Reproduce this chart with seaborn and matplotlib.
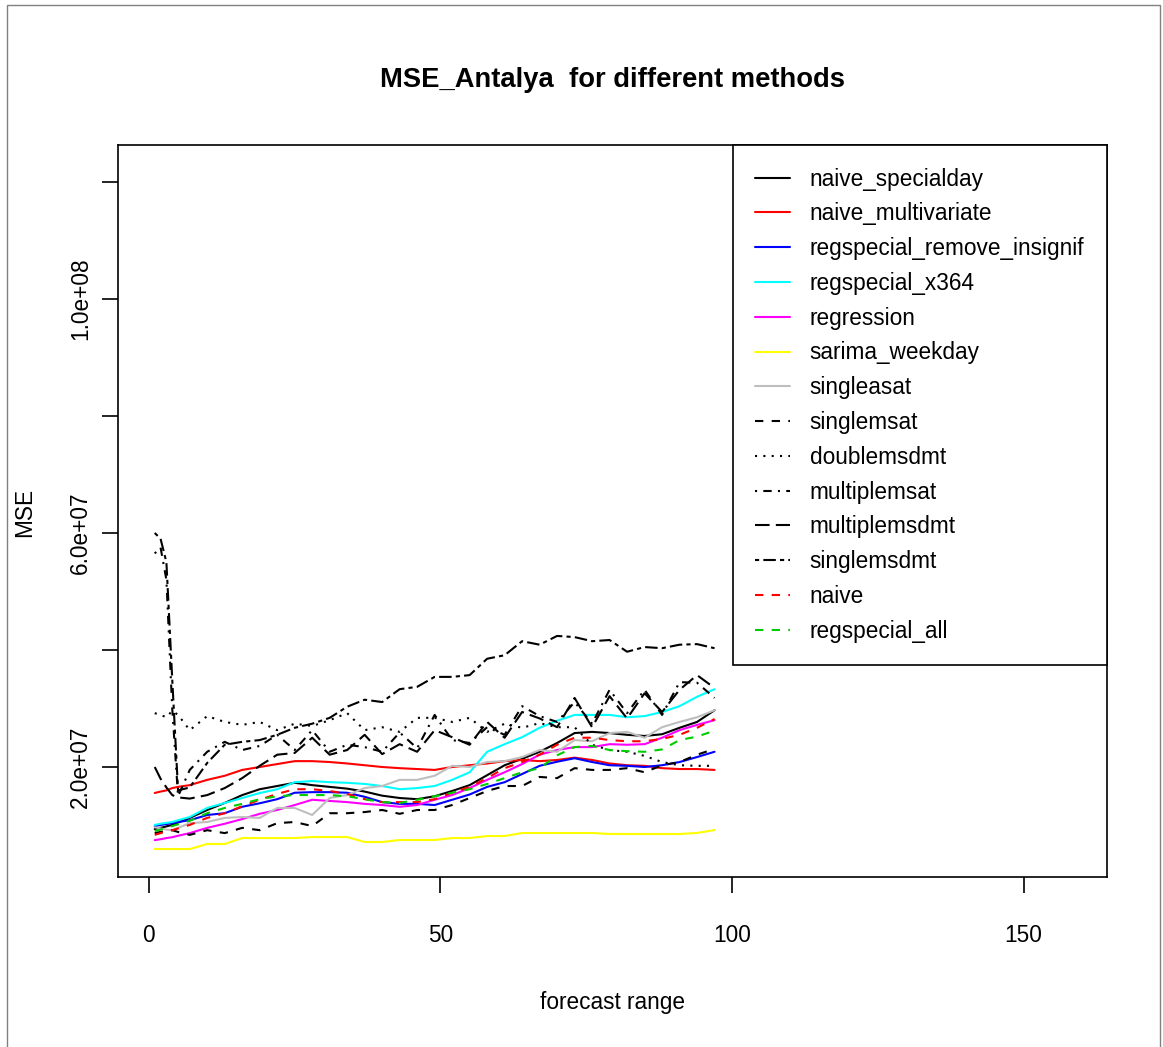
import pandas as pd
import seaborn as sns
import matplotlib.pyplot as plt
from matplotlib import font_manager
from matplotlib.patches import Rectangle

# forecast horizons at which the curves were read
horizon = [1, 2, 3, 4, 5, 7, 10, 13, 16, 19, 22, 25, 28, 31, 34, 37, 40, 43, 46, 49,
           52, 55, 58, 61, 64, 67, 70, 73, 76, 79, 82, 85, 88, 91, 94, 97]

# MSE values, in millions
naive_specialday = [9.4, 9.6, 9.85, 10.1, 10.5, 11.3, 12.65, 13.85, 15.2, 16.2, 16.75, 17.3, 16.9, 16.6, 16.3, 15.8, 15.1, 14.7,
                    14.5, 15.0, 15.9, 16.9, 18.6, 20.3, 21.4, 22.6, 24.1, 25.8, 26.0, 25.8, 25.5, 25.3, 25.6, 26.7, 27.7, 29.7]
naive_multivariate = [15.56, 15.8, 16.0, 16.4, 16.6, 16.9, 17.8, 18.5, 19.5, 20.0, 20.5, 21.0, 21.0, 20.85, 20.6, 20.3, 20.0, 19.8,
                      19.65, 19.5, 20.0, 20.3, 20.6, 21.0, 21.2, 21.0, 21.2, 21.6, 21.2, 20.6, 20.3, 20.2, 19.8, 19.65, 19.65, 19.5]
regspecial_remove_insignif = [9.9, 10.1, 10.25, 10.4, 10.6, 10.9, 11.8, 12.1, 13.2, 13.8, 14.5, 15.6, 15.7, 15.7, 15.6, 14.9, 14.0, 13.7,
                              13.7, 13.5, 14.4, 15.3, 16.6, 17.4, 18.8, 20.2, 20.9, 21.5, 20.85, 20.3, 20.2, 20.0, 20.3, 20.85, 21.7, 22.6]
regspecial_x364 = [10.1, 10.3, 10.45, 10.6, 10.9, 11.45, 13.0, 13.85, 14.7, 15.55, 16.2, 17.4, 17.6, 17.4, 17.3, 17.1, 16.75, 16.2,
                   16.4, 16.75, 17.8, 19.1, 22.6, 23.9, 25.1, 26.7, 27.9, 28.9, 28.9, 28.9, 28.5, 28.7, 29.4, 30.4, 32.0, 33.3]
regression = [7.5, 7.65, 7.85, 8.0, 8.25, 8.7, 9.6, 10.3, 11.1, 12.0, 12.65, 13.5, 14.4, 14.2, 14.0, 13.7, 13.5, 13.2,
              13.5, 14.4, 15.2, 16.4, 17.8, 19.1, 20.5, 22.1, 22.9, 23.4, 23.4, 23.9, 23.8, 23.9, 25.0, 26.3, 27.2, 28.0]
sarima_weekday = [5.98, 5.98, 5.98, 5.98, 5.98, 5.98, 6.84, 6.84, 7.86, 7.86, 7.86, 7.86, 8.03, 8.03, 8.03, 7.18, 7.18, 7.52,
                  7.52, 7.52, 7.86, 7.86, 8.2, 8.2, 8.72, 8.72, 8.72, 8.72, 8.72, 8.55, 8.55, 8.55, 8.55, 8.55, 8.72, 9.23]
singleasat = [9.7, 9.5, 9.3, 9.2, 9.6, 10.4, 10.6, 11.3, 11.45, 11.3, 13.0, 13.0, 11.8, 14.7, 15.2, 16.4, 16.75, 17.8,
              17.8, 18.5, 20.2, 20.0, 20.85, 21.0, 21.7, 22.9, 22.6, 24.6, 24.4, 25.8, 26.0, 25.0, 26.8, 27.7, 28.5, 29.7]
singlemsat = [8.7, 8.9, 9.05, 9.2, 8.9, 8.4, 9.2, 8.7, 9.6, 9.2, 10.4, 10.6, 9.9, 12.1, 12.1, 12.3, 12.65, 12.0,
              12.65, 12.65, 13.5, 14.7, 15.9, 16.75, 16.75, 18.3, 18.1, 19.8, 19.5, 19.5, 19.8, 19.1, 20.3, 20.85, 22.1, 23.1]
doublemsdmt = [29.2, 28.9, 28.5, 29.6, 28.9, 26.3, 28.7, 27.7, 27.2, 27.7, 26.3, 27.4, 27.0, 28.0, 29.2, 26.3, 26.8, 26.0,
               28.4, 28.4, 27.7, 28.4, 26.0, 27.4, 26.7, 27.5, 26.8, 26.8, 23.8, 22.9, 22.6, 21.9, 20.85, 20.3, 20.2, 20.2]
multiplemsat = [56.5, 57.5, 52.0, 30.0, 15.0, 19.5, 22.6, 24.3, 22.9, 23.6, 25.5, 22.9, 26.3, 22.6, 23.8, 23.4, 22.6, 25.9,
                23.2, 28.9, 24.6, 24.1, 26.8, 25.5, 30.4, 28.7, 27.7, 31.1, 27.4, 33.2, 29.2, 33.2, 28.9, 34.5, 34.4, 31.8]
multiplemsdmt = [20.0, 18.0, 16.5, 15.2, 14.8, 14.6, 15.2, 16.4, 18.1, 20.2, 22.1, 22.4, 25.0, 22.1, 22.9, 25.5, 22.2, 23.9,
                 22.6, 26.3, 25.1, 23.8, 27.7, 25.0, 29.4, 28.3, 26.8, 31.8, 26.8, 32.1, 28.3, 32.6, 29.4, 33.2, 35.7, 33.5]
singlemsdmt = [60.0, 59.0, 55.0, 35.0, 16.0, 16.5, 20.7, 23.8, 24.3, 24.6, 25.5, 26.7, 27.4, 28.4, 30.3, 31.5, 31.1, 33.3,
               33.7, 35.4, 35.4, 35.7, 38.5, 39.1, 41.5, 40.9, 42.4, 42.2, 41.5, 41.7, 39.7, 40.5, 40.3, 40.9, 41.0, 40.3]
naive = [8.4, 8.7, 8.95, 9.2, 9.5, 10.1, 11.3, 12.1, 13.3, 14.4, 15.4, 16.2, 16.2, 15.9, 15.4, 14.5, 14.0, 14.0,
         14.0, 14.5, 15.6, 16.6, 18.1, 19.8, 20.85, 22.1, 23.8, 25.0, 25.0, 24.6, 24.4, 24.4, 24.8, 25.5, 26.7, 28.2]
regspecial_all = [9.05, 9.3, 9.6, 9.9, 10.2, 10.8, 12.1, 13.0, 13.7, 14.5, 15.0, 15.2, 15.2, 15.2, 15.0, 14.5, 14.0, 13.85,
                  14.4, 15.0, 15.6, 16.2, 17.1, 18.1, 19.1, 19.8, 22.0, 23.4, 23.6, 22.9, 22.7, 22.6, 23.0, 24.6, 25.2, 26.2]

methods = ["naive_specialday", "naive_multivariate", "regspecial_remove_insignif", "regspecial_x364",
           "regression", "sarima_weekday", "singleasat", "singlemsat", "doublemsdmt", "multiplemsat",
           "multiplemsdmt", "singlemsdmt", "naive", "regspecial_all"]
series = [naive_specialday, naive_multivariate, regspecial_remove_insignif, regspecial_x364,
          regression, sarima_weekday, singleasat, singlemsat, doublemsdmt, multiplemsat,
          multiplemsdmt, singlemsdmt, naive, regspecial_all]
line_colors = ["black", "#FF0000", "#0000FF", "#00FFFF", "#FF00FF", "#FFFF00", "#BEBEBE",
               "black", "black", "black", "black", "black", "#FF0000", "#00CD00"]
line_dashes = ["", "", "", "", "", "", "", (4, 4), (1, 3), (1, 3, 4, 3), (7, 3), (2, 2, 6, 2), (4, 4), (4, 4)]

ytick_vals = [2e7, 4e7, 6e7, 8e7, 1e8, 1.2e8]
ytick_text = ["2.0e+07", "", "6.0e+07", "", "1.0e+08", ""]
xtick_vals = [0, 50, 100, 150]

rows = []
for name, vals in zip(methods, series):
    for h, v in zip(horizon, vals):
        rows.append({"horizon": h, "mse": v * 1e6, "method": name})
df = pd.DataFrame(rows)


def pick_font(names):
    for n in names:
        try:
            font_manager.findfont(n, fallback_to_default=False)
            return n, True
        except ValueError:
            pass
    return "Liberation Sans", False


sns.set_style("ticks")
font_name, is_narrow = pick_font(["Liberation Sans Narrow", "Arial Narrow"])
plt.rcParams["font.family"] = [font_name, "DejaVu Sans"]
plt.rcParams["text.color"] = "black"
plt.rcParams["xtick.color"] = "black"
plt.rcParams["ytick.color"] = "black"
base = 20 if is_narrow else 16.3
title_size = 24 if is_narrow else 19.7

W, H = 1163, 1047
fig = plt.figure(figsize=(W / 100, H / 100), dpi=100)
ax = fig.add_axes([118 / W, 1 - 877 / H, (1107 - 118) / W, (877 - 145) / H])

sns.lineplot(
    data=df, x="horizon", y="mse", hue="method", style="method",
    hue_order=methods, style_order=methods,
    palette=dict(zip(methods, line_colors)),
    dashes=dict(zip(methods, line_dashes)),
    estimator=None, linewidth=1.5, ax=ax, legend="full"
)

ax.set_xlim(-5.3, 164.3)
ax.set_ylim(1.2e6, 126.3e6)
ax.set_xticks(xtick_vals)
ax.set_xticklabels([str(v) for v in xtick_vals], fontsize=base, color="black")
ax.set_yticks(ytick_vals)
ax.set_yticklabels(ytick_text, rotation=90, va="center", fontsize=base, color="black")
ax.tick_params(axis="x", length=11.5, width=1.2, pad=22.5, color="black")
ax.tick_params(axis="y", length=11.5, width=1.2, pad=7, color="black")
ax.set_xlabel("")
ax.set_ylabel("")
for sp in ax.spines.values():
    sp.set_visible(True)
    sp.set_color("black")
    sp.set_linewidth(1.2)

handles, labels = ax.get_legend_handles_labels()
for h in handles:
    h.set_linewidth(1.5)
leg = ax.legend(handles, labels, loc="upper right", bbox_to_anchor=(1, 1), borderaxespad=0,
                frameon=True, fancybox=False, edgecolor="black", fontsize=base,
                handlelength=1.55, handletextpad=0.85, labelspacing=0.52, borderpad=1.0)
leg.get_frame().set_linewidth(1.2)
leg.get_frame().set_alpha(1)
for t in leg.get_texts():
    t.set_color("black")

fig.text(612 / W, 1 - 80 / H, "MSE_Antalya  for different methods", ha="center", va="center",
         fontsize=title_size, fontweight="bold", color="black")
fig.text(612 / W, 1 - 1002 / H, "forecast range", ha="center", va="center", fontsize=base, color="black")
fig.text(25 / W, 1 - 512 / H, "MSE", ha="center", va="center", rotation=90, fontsize=base, color="black")

fig.patches.append(Rectangle((7 / W, -0.01), (1160 - 7) / W, 1.01 - 5 / H, transform=fig.transFigure,
                             fill=False, edgecolor="#808080", linewidth=1))

fig.savefig("out.png", dpi=100)
